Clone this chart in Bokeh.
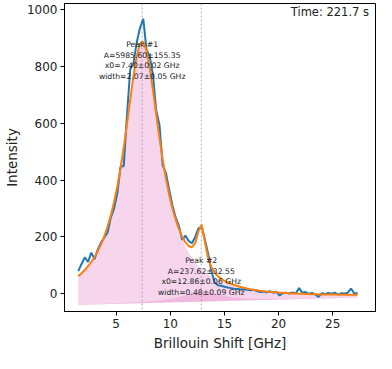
from bokeh.plotting import figure
from bokeh.models import Range1d, Span, FixedTicker, Label
from bokeh.core.properties import value
from bokeh.embed import file_html
from bokeh.resources import INLINE

# ---- data ----
shift_ghz = [1.5, 1.8, 2.1, 2.4, 2.7, 3.0, 3.3, 3.6, 3.9, 4.2,
             4.5, 4.8, 5.1, 5.4, 5.7, 6.0, 6.3, 6.6, 6.9, 7.2,
             7.5, 7.8, 8.1, 8.4, 8.7, 9.0, 9.3, 9.6, 9.9, 10.2,
             10.5, 10.8, 11.1, 11.4, 11.7, 12.0, 12.3, 12.6, 12.9, 13.2,
             13.5, 13.8, 14.1, 14.4, 14.7, 15.0, 15.3, 15.6, 15.9, 16.2,
             16.5, 16.8, 17.1, 17.4, 17.7, 18.0, 18.3, 18.6, 18.9, 19.2,
             19.5, 19.8, 20.1, 20.4, 20.7, 21.0, 21.3, 21.6, 21.9, 22.2,
             22.5, 22.8, 23.1, 23.4, 23.7, 24.0, 24.3, 24.6, 24.9, 25.2,
             25.5, 25.8, 26.1, 26.4, 26.7, 27.0, 27.3]

intensity = [80, 105, 128, 112, 145, 122, 156, 180, 198, 215,
             268, 300, 352, 447, 450, 630, 790, 812, 885, 935,
             968, 860, 835, 770, 645, 594, 452, 425, 365, 311,
             268, 238, 190, 205, 186, 178, 200, 230, 236, 190,
             140, 80, 40, 30, 28, 25, 22, 20, 18, 17,
             15, 16, 14, 12, 14, 10, 6, 8, 5, 9,
             4, 7, -6, 2, 4, 1, 5, 2, 20, 4,
             6, 0, 3, -2, -11, 2, -1, 3, 0, 4,
             -3, 2, 1, 4, 18, 1, 3]

background = [-39.0, -38.7, -38.4, -38.1, -37.8, -37.5, -37.2, -36.9, -36.6, -36.3,
              -36.0, -35.7, -35.4, -35.1, -34.8, -34.5, -34.2, -33.9, -33.6, -33.3,
              -33.0, -32.7, -32.4, -32.1, -31.8, -31.5, -31.2, -30.9, -30.6, -30.3,
              -30.0, -29.7, -29.4, -29.1, -28.8, -28.5, -28.2, -27.9, -27.6, -27.3,
              -27.0, -26.7, -26.4, -26.1, -25.8, -25.5, -25.2, -24.9, -24.6, -24.3,
              -24.0, -23.7, -23.4, -23.1, -22.8, -22.5, -22.2, -21.9, -21.6, -21.3,
              -21.0, -20.7, -20.4, -20.1, -19.8, -19.5, -19.2, -18.9, -18.6, -18.3,
              -18.0, -17.7, -17.4, -17.1, -16.8, -16.5, -16.2, -15.9, -15.6, -15.3,
              -15.0, -14.7, -14.4, -14.1, -13.8, -13.5, -13.2]

peak1_fit = [100.9, 110.6, 121.8, 134.7, 149.5, 166.8, 187.0, 210.6, 238.5, 271.5,
             310.7, 357.1, 411.9, 476.0, 549.7, 631.5, 717.7, 800.8, 869.7, 911.9,
             918.3, 887.3, 826.0, 746.3, 660.1, 576.2, 499.6, 432.2, 374.4, 325.3,
             283.8, 248.9, 219.4, 194.4, 173.2, 155.0, 139.4, 125.9, 114.2, 104.0,
             95.0, 87.2, 80.2, 74.0, 68.5, 63.6, 59.1, 55.1, 51.5, 48.3,
             45.3, 42.6, 40.1, 37.8, 35.7, 33.8, 32.0, 30.4, 28.9, 27.5,
             26.2, 25.0, 23.8, 22.8, 21.8, 20.8, 20.0, 19.2, 18.4, 17.7,
             17.0, 16.3, 15.7, 15.2, 14.6, 14.1, 13.6, 13.1, 12.7, 12.3,
             11.9, 11.5, 11.1, 10.8, 10.5, 10.2, 9.9]

peak2_fit = [0.28, 0.30, 0.31, 0.33, 0.35, 0.37, 0.40, 0.42, 0.45, 0.48,
             0.52, 0.56, 0.60, 0.65, 0.71, 0.77, 0.84, 0.92, 1.02, 1.13,
             1.25, 1.41, 1.59, 1.80, 2.07, 2.40, 2.81, 3.34, 4.04, 4.97,
             6.26, 8.12, 10.91, 15.37, 23.05, 37.44, 66.75, 121.8, 156.5, 104.9,
             56.7, 32.6, 20.5, 13.96, 10.04, 7.55, 5.87, 4.69, 3.83, 3.19,
             2.69, 2.31, 2.02, 1.76, 1.55, 1.36, 1.22, 1.10, 0.99, 0.90,
             0.82, 0.75, 0.69, 0.64, 0.59, 0.55, 0.51, 0.47, 0.44, 0.42,
             0.39, 0.37, 0.35, 0.33, 0.31, 0.29, 0.28, 0.26, 0.25, 0.24,
             0.23, 0.22, 0.21, 0.20, 0.19, 0.18, 0.17]

# shaded area drawn for peak #2 (broad, low hill in the picture)
peak2_shade = [1.17, 1.24, 1.30, 1.38, 1.46, 1.54, 1.64, 1.74, 1.85, 1.97,
               2.11, 2.26, 2.43, 2.61, 2.82, 3.05, 3.31, 3.60, 3.93, 4.31,
               4.74, 5.24, 5.81, 6.48, 7.25, 8.16, 9.23, 10.50, 12.00, 13.78,
               15.89, 18.36, 21.21, 24.40, 27.81, 31.16, 34.05, 35.97, 36.52, 35.58,
               33.35, 30.29, 26.89, 23.52, 20.41, 17.66, 15.29, 13.28, 11.57, 10.14,
               8.93, 7.90, 7.03, 6.29, 5.65, 5.10, 4.62, 4.20, 3.84, 3.52,
               3.24, 2.99, 2.76, 2.56, 2.38, 2.22, 2.07, 1.94, 1.82, 1.71,
               1.61, 1.52, 1.43, 1.36, 1.29, 1.22, 1.16, 1.10, 1.05, 1.00,
               0.95, 0.91, 0.87, 0.83, 0.80, 0.77, 0.74]

peak_x0 = [7.40, 12.86]
peak_text_y = [822, 61]
peak_labels = [
    ["Peak #1", "A=5985.60\u00b1155.35", "x0=7.40\u00b10.02 GHz", "width=2.07\u00b10.05 GHz"],
    ["Peak #2", "A=237.62\u00b132.55", "x0=12.86\u00b10.06 GHz", "width=0.48\u00b10.09 GHz"],
]
time_text = "Time:  221.7 s"
x_ticks = [5, 10, 15, 20, 25]
y_ticks = [0, 200, 400, 600, 800, 1000]

# ---- derived ----
fit_total = [b + a + c for b, a, c in zip(background, peak1_fit, peak2_fit)]
fill1_top = [b + a for b, a in zip(background, peak1_fit)]
fill2_top = [b + c for b, c in zip(background, peak2_shade)]

FONT = "DejaVu Sans"

p = figure(width=376, height=353,
           x_range=Range1d(0.225, 28.96), y_range=Range1d(-62.3, 1021.5),
           output_backend="svg", toolbar_location=None,
           min_border_left=62, min_border_right=1, min_border_top=3, min_border_bottom=42)

p.xgrid.visible = False
p.ygrid.visible = False
p.outline_line_color = "black"
p.outline_line_alpha = 1.0
p.outline_line_width = 1
p.background_fill_color = "white"
p.border_fill_color = "white"

pink = "#e377c2"
p.varea(x=shift_ghz, y1=background, y2=fill1_top, fill_color=pink, fill_alpha=0.3)
p.varea(x=shift_ghz, y1=background, y2=fill2_top, fill_color=pink, fill_alpha=0.3)

for x0 in peak_x0:
    p.add_layout(Span(location=x0, dimension="height", line_color="#888888",
                      line_alpha=0.8, line_width=0.8, line_dash="2 2"))

p.line(shift_ghz, intensity, line_color="#1f77b4", line_width=2)
p.line(shift_ghz, fit_total, line_color="#ff7f0e", line_width=2)

offsets = [-15.5, -5.0, 5.5, 16.0]
for x0, yc, lines in zip(peak_x0, peak_text_y, peak_labels):
    p.text(x=[x0] * 4, y=[yc] * 4, text=lines, y_offset=offsets,
           text_align="center", text_baseline="middle",
           text_font=value(FONT), text_font_size="7.7px", text_color="#222222")

p.add_layout(Label(x=28.7, y=1016, text=time_text, text_align="right",
                   text_baseline="top", text_font=FONT, text_font_size="11.5px",
                   text_color="#222222"))

for ax in (p.xaxis[0], p.yaxis[0]):
    ax.axis_line_color = "black"
    ax.major_tick_line_color = "black"
    ax.major_tick_out = 4
    ax.major_tick_in = 0
    ax.minor_tick_out = 0
    ax.minor_tick_in = 0
    ax.major_label_text_font = FONT
    ax.major_label_text_font_size = "12px"
    ax.major_label_text_color = "#222222"
    ax.major_label_standoff = 3
    ax.axis_label_text_font = FONT
    ax.axis_label_text_font_size = "13.5px"
    ax.axis_label_text_font_style = "normal"
    ax.axis_label_text_color = "#222222"
    ax.axis_label_standoff = 4

p.xaxis.ticker = FixedTicker(ticks=x_ticks)
p.yaxis.ticker = FixedTicker(ticks=y_ticks)
p.xaxis.axis_label = "Brillouin Shift [GHz]"
p.yaxis.axis_label = "Intensity"

open("out.html", "w").write(file_html(p, INLINE))
